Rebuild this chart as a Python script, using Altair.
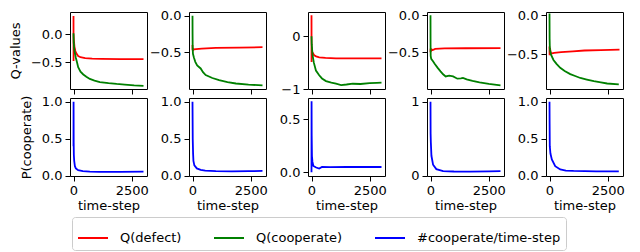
import altair as alt
import pandas as pd

# ---------------- data ----------------
SERIES = ["Q(defect)", "Q(cooperate)", "#cooperate/time-step"]
COLORS = ["#ff0000", "#008000", "#0000ff"]

# panel 1
p1_defect = [(0, 0.33), (2, -0.48), (5, 0.0), (15, -0.10), (40, -0.22), (80, -0.30), (120, -0.34),
             (200, -0.39), (300, -0.41), (500, -0.425), (800, -0.435), (1200, -0.44), (2000, -0.443),
             (3000, -0.445)]
p1_coop = [(0, 0.02), (3, -0.05), (10, -0.15), (30, -0.26), (60, -0.34), (100, -0.42), (150, -0.50),
           (200, -0.59), (300, -0.67), (420, -0.72), (550, -0.76), (700, -0.80), (900, -0.83),
           (1130, -0.855), (1500, -0.875), (1850, -0.89), (2200, -0.90), (2600, -0.915), (3000, -0.925)]
p1_rate = [(0, 0.40), (3, 1.0), (8, 0.45), (15, 0.28), (30, 0.20), (60, 0.13), (100, 0.10), (200, 0.075),
           (400, 0.062), (700, 0.055), (1100, 0.052), (2000, 0.054), (3000, 0.056)]

# panel 2
p2_defect = [(0, -0.40), (3, -0.47), (10, -0.44), (25, -0.47), (60, -0.46), (150, -0.455), (400, -0.45),
             (1000, -0.44), (2000, -0.435), (3000, -0.43)]
p2_coop = [(0, 0.0), (3, -0.25), (8, -0.45), (20, -0.52), (60, -0.57), (120, -0.63), (200, -0.68),
           (350, -0.72), (450, -0.77), (565, -0.81), (850, -0.85), (1140, -0.88), (1500, -0.905),
           (1860, -0.925), (2400, -0.94), (3000, -0.95)]
p2_rate = [(0, 1.0), (10, 0.50), (25, 0.30), (40, 0.20), (80, 0.14), (185, 0.10), (350, 0.08), (545, 0.07),
           (1000, 0.062), (1690, 0.06), (2400, 0.062), (3000, 0.065)]

# panel 3
p3_defect = [(0, 0.40), (3, -0.49), (8, -0.20), (30, -0.30), (116, -0.36), (200, -0.38), (330, -0.40),
             (600, -0.41), (1050, -0.42), (2000, -0.42), (3000, -0.42)]
p3_coop = [(0, 0.0), (10, -0.15), (45, -0.36), (100, -0.50), (190, -0.65), (330, -0.74), (450, -0.80),
           (620, -0.85), (850, -0.88), (1050, -0.90), (1270, -0.925), (1500, -0.915), (1770, -0.90),
           (2100, -0.905), (2490, -0.89), (2800, -0.885), (3000, -0.88)]
p3_rate = [(0, 0.0), (3, 0.67), (8, 0.35), (20, 0.15), (40, 0.10), (80, 0.06), (200, 0.045), (330, 0.035),
           (450, 0.05), (800, 0.048), (1500, 0.05), (3000, 0.05)]

# panel 4
p4_defect = [(0, -0.50), (5, -0.45), (15, -0.49), (40, -0.46), (100, -0.47), (200, -0.455), (600, -0.45),
             (1500, -0.447), (3000, -0.445)]
p4_coop = [(0, 0.0), (3, -0.40), (8, -0.55), (30, -0.59), (100, -0.62), (185, -0.66), (300, -0.71),
           (430, -0.76), (540, -0.80), (650, -0.83), (800, -0.82), (970, -0.83), (1150, -0.86),
           (1300, -0.855), (1390, -0.85), (1550, -0.87), (1800, -0.89), (2100, -0.91), (2500, -0.93),
           (3000, -0.95)]
p4_rate = [(0, 1.0), (5, 0.57), (15, 0.45), (40, 0.27), (110, 0.15), (250, 0.09), (540, 0.062),
           (1000, 0.058), (1690, 0.057), (2500, 0.06), (3000, 0.062)]

# panel 5
p5_defect = [(0, -0.40), (5, -0.51), (20, -0.42), (60, -0.49), (200, -0.48), (500, -0.47), (1000, -0.46),
             (1500, -0.45), (2200, -0.445), (3000, -0.44)]
p5_coop = [(0, 0.02), (5, -0.30), (15, -0.43), (60, -0.50), (170, -0.57), (300, -0.62), (460, -0.67),
           (650, -0.71), (890, -0.75), (1100, -0.775), (1320, -0.80), (1600, -0.82), (1900, -0.84),
           (2200, -0.855), (2470, -0.87), (2970, -0.88)]
p5_rate = [(0, 1.0), (5, 0.70), (12, 0.40), (40, 0.30), (100, 0.22), (245, 0.13), (460, 0.085),
           (700, 0.07), (1030, 0.065), (2000, 0.06), (2970, 0.06)]

# axis limits and ticks
X_DOMAIN = [-150, 3150]
X_TICKS = [0, 2500]
TOP_DOMAINS = [[-0.98, 0.40], [-1.0, 0.05], [-1.0, 0.46], [-1.0, 0.045], [-0.94, 0.04]]
TOP_TICKS = [[0.0, -0.5], [0.0, -0.5], [0, -1], [0.0, -0.5], [0.0, -0.5]]
TOP_FMT = [".1f", ".1f", ".0f", ".1f", ".1f"]
BOT_DOMAINS = [[-0.003, 1.05], [-0.003, 1.05], [-0.035, 0.70], [-0.003, 1.05], [-0.003, 1.05]]
BOT_TICKS = [[0.0, 0.5, 1.0], [0.0, 0.5, 1.0], [0.0, 0.5], [0, 1], [0.0, 0.5, 1.0]]
BOT_FMT = [".1f", ".1f", ".1f", ".0f", ".1f"]

DEFECTS = [p1_defect, p2_defect, p3_defect, p4_defect, p5_defect]
COOPS = [p1_coop, p2_coop, p3_coop, p4_coop, p5_coop]
RATES = [p1_rate, p2_rate, p3_rate, p4_rate, p5_rate]

W = 77
H_TOP = 77
H_BOT = 78
FONT = "DejaVu Sans"

color_scale = alt.Scale(domain=SERIES, range=COLORS)
legend = alt.Legend(
    orient="none", legendX=2, legendY=205, direction="horizontal", title=None,
    symbolType="stroke", symbolSize=900, symbolStrokeWidth=2, labelFontSize=13, labelFont=FONT,
    labelColor="black", labelOffset=11, columnPadding=28, padding=5, strokeColor="#cccccc",
    fillColor="white", cornerRadius=3,
)


def to_df(pairs, name):
    return pd.DataFrame({"t": [p[0] for p in pairs], "v": [p[1] for p in pairs], "series": name})


def line_layer(df, ydomain, yticks, yfmt, ytitle, bottom):
    xaxis = alt.Axis(values=X_TICKS, labels=bottom, title="time-step" if bottom else None,
                     format="d", titleFontWeight=400, titlePadding=2.5, titleBaseline="top")
    yaxis = alt.Axis(values=yticks, format=yfmt, title=ytitle, titleFontWeight=400,
                     labelExpr="replace(datum.label, '-', '\u2212')")
    return alt.Chart(df).mark_line(strokeWidth=1.8, clip=True).encode(
        x=alt.X("t:Q", scale=alt.Scale(domain=X_DOMAIN, nice=False, zero=False), axis=xaxis),
        y=alt.Y("v:Q", scale=alt.Scale(domain=ydomain, nice=False, zero=False), axis=yaxis),
        color=alt.Color("series:N", scale=color_scale, legend=legend),
    )


panels = []
for i in range(5):
    ytitle = "Q-values" if i == 0 else None
    top = alt.layer(
        line_layer(to_df(DEFECTS[i], SERIES[0]), TOP_DOMAINS[i], TOP_TICKS[i], TOP_FMT[i], ytitle, False),
        line_layer(to_df(COOPS[i], SERIES[1]), TOP_DOMAINS[i], TOP_TICKS[i], TOP_FMT[i], ytitle, False),
    ).properties(width=W, height=H_TOP)
    panels.append(top)
for i in range(5):
    ytitle = "P(cooperate)" if i == 0 else None
    bot = line_layer(to_df(RATES[i], SERIES[2]), BOT_DOMAINS[i], BOT_TICKS[i], BOT_FMT[i], ytitle, True
                     ).properties(width=W, height=H_BOT)
    panels.append(bot)

chart = alt.concat(*panels, columns=5, spacing={"row": 9, "column": 42}, bounds="flush").properties(
    padding={"left": 0, "top": 0, "right": 0, "bottom": 0}
).configure(font=FONT).configure_view(
    stroke="black", strokeWidth=1
).configure_axis(
    grid=False, domain=False, tickSize=5, tickColor="black", tickWidth=1, labelPadding=3,
    labelFontSize=13, labelFont=FONT, labelColor="black", titleFontSize=13, titleFont=FONT,
    titleFontWeight=400, titleColor="black", titlePadding=8,
)

chart.save("out.html", embed_options={"renderer": "svg", "actions": False})
